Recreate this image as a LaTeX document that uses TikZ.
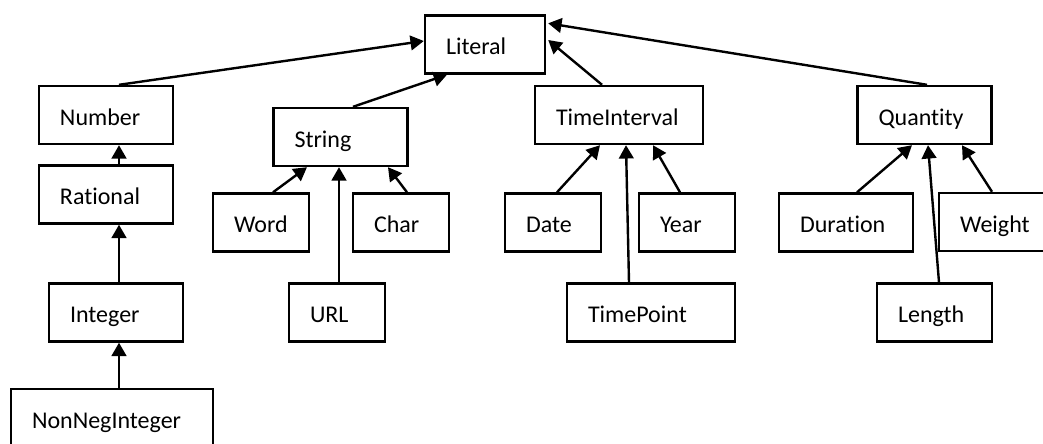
\documentclass[tikz,border=0pt]{standalone}
\usepackage{fontspec}
\setmainfont{Carlito}[Ligatures=NoCommon,Contextuals=NoAlternate]
\usetikzlibrary{arrows.meta,calc}

\tikzset{
	cls/.style={draw, text width=#1, align=left, inner xsep=15.75pt, inner ysep=0pt,
		minimum height=43.5pt, text height=16.9pt, text depth=1.8pt,
		font=\fontsize{18}{21}\selectfont}
}

\begin{document}
\begin{tikzpicture}[x=0.75pt,y=-0.75pt,>={Triangle[length=10pt,width=11pt]},line width=1.8pt]
		\useasboundingbox (0,0) rectangle (1043,443);
		\clip (0,0) rectangle (1043,443);
		% top
		\node[cls=58.5pt] (literal) at (485,44.5) {Literal};
		% numbers
		\node[cls=69pt] (number) at (106,115) {Number};
		\node[cls=69pt] (rational) at (106,194.5) {Rational};
		\node[cls=69pt] (integer) at (116,312.5) {Integer};
		\node[cls=120pt] (nonneg) at (112,418) {NonNegInteger};
		% strings
		\node[cls=69pt] (string) at (340.5,137) {String};
		\node[cls=40.5pt] (word) at (261,222.5) {Word};
		\node[cls=40.5pt] (char) at (401,222.5) {Char};
		\node[cls=40.5pt] (url) at (337,312.5) {URL};
		% time
		\node[cls=94.5pt] (timeinterval) at (619,115) {TimeInterval};
		\node[cls=40.5pt] (date) at (553,222.5) {Date};
		\node[cls=40.5pt] (year) at (687,222.5) {Year};
		\node[cls=94.5pt] (timepoint) at (651,312.5) {TimePoint};
		% quantities
		\node[cls=69pt] (quantity) at (924.5,115) {Quantity};
		\node[cls=69pt] (duration) at (846,222.5) {Duration};
		\node[cls=52.5pt] (weight) at (995,222) {Weight};
		\node[cls=54.75pt] (length) at (934.5,312.5) {Length};
		\path[->]
			($(number.north)+(13,0)$) edge ($(literal.west)+(0,-3.5)$)
			($(string.north)+(12.5,0)$) edge ($(literal.south)+(-38,0)$)
			($(timeinterval.north)+(-17,0)$) edge ($(literal.east)+(2,-4.5)$)
			($(quantity.north)+(2.5,0)$) edge ($(literal.north east)+(2,9)$)
			($(rational.north)+(13,0)$) edge ($(number.south)+(13,0)$)
			($(integer.north)+(3,0)$) edge ($(rational.south)+(13,0)$)
			($(nonneg.north)+(7,0)$) edge ($(integer.south)+(3,0)$)
			($(word.north)+(12,0)$) edge ($(string.south)+(-33.5,0)$)
			($(url.north)+(2,0)$) edge ($(string.south)+(-1.5,0)$)
			($(char.north)+(6,0)$) edge ($(string.south)+(47.5,0)$)
			($(date.north)+(4,0)$) edge ($(timeinterval.south)+(-19,0)$)
			($(timepoint.north)+(-22,0)$) edge ($(timeinterval.south)+(7,0)$)
			($(year.north)+(-7,0)$) edge ($(timeinterval.south)+(34,0)$)
			($(duration.north)+(11,0)$) edge ($(quantity.south)+(-12.5,0)$)
			($(length.north)+(4.5,0)$) edge ($(quantity.south)+(3.5,0)$)
			($(weight.north)+(-3,0)$) edge ($(quantity.south)+(37.5,0)$);
	\end{tikzpicture}
\end{document}
